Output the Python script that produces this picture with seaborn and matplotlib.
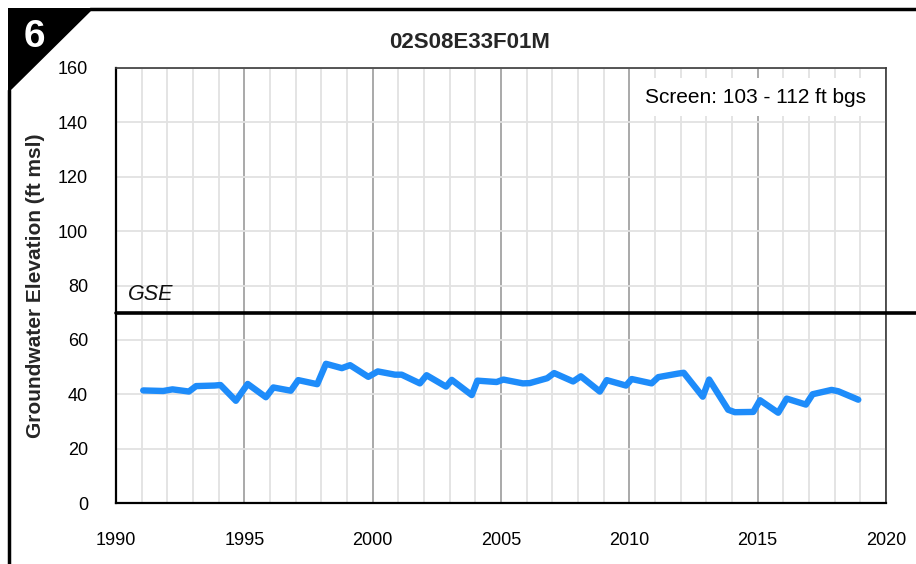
import matplotlib
matplotlib.use("Agg")
import matplotlib.pyplot as plt
from matplotlib.lines import Line2D
from matplotlib.patches import Polygon
from matplotlib.ticker import MultipleLocator
import seaborn as sns
import pandas as pd

# Well hydrograph data
well_id = "02S08E33F01M"
panel_number = "6"
screen_label = "Screen: 103 - 112 ft bgs"
gse_label = "GSE"
gse_elevation = 70.0

years = [1991.06, 1991.84, 1992.20, 1992.84, 1993.12, 1993.84, 1994.07, 1994.67,
         1995.13, 1995.84, 1996.13, 1996.81, 1997.10, 1997.84, 1998.18, 1998.80,
         1999.12, 1999.83, 2000.20, 2000.87, 2001.13, 2001.84, 2002.10, 2002.86,
         2003.08, 2003.86, 2004.08, 2004.83, 2005.09, 2005.85, 2006.12, 2006.80,
         2007.07, 2007.81, 2008.11, 2008.85, 2009.12, 2009.87, 2010.09, 2010.87,
         2011.13, 2011.90, 2012.12, 2012.86, 2013.11, 2013.85, 2014.11, 2014.83,
         2015.09, 2015.80, 2016.13, 2016.88, 2017.14, 2017.88, 2018.14, 2018.92]
elevations = [41.4, 41.2, 41.8, 41.0, 43.0, 43.2, 43.4, 37.6,
              43.8, 38.9, 42.5, 41.3, 45.2, 43.7, 51.2, 49.6,
              50.7, 46.4, 48.4, 47.2, 47.2, 44.0, 47.0, 42.8,
              45.3, 39.7, 45.0, 44.5, 45.4, 44.0, 44.1, 45.9,
              47.8, 44.7, 46.6, 41.0, 45.2, 43.2, 45.6, 44.0,
              46.3, 47.6, 47.9, 39.1, 45.4, 34.3, 33.4, 33.5,
              37.8, 33.2, 38.4, 36.2, 40.0, 41.6, 41.1, 38.0]

x_ticks = [1990, 1995, 2000, 2005, 2010, 2015, 2020]
y_ticks = [0, 20, 40, 60, 80, 100, 120, 140, 160]

df = pd.DataFrame({"year": years, "elevation": elevations})

sns.set_theme(style="white")
plt.rcParams["font.family"] = ["Liberation Sans", "DejaVu Sans"]

W, H = 916, 564
fig = plt.figure(figsize=(W / 100, H / 100), dpi=100)
ax = fig.add_axes([116 / W, 1 - 503 / H, 770 / W, 435 / H])


def fx(px):
    return px / W


def fy(py):
    return 1 - py / H


# Grid: light yearly lines, darker 5-year lines, light horizontal lines
ax.set_xlim(x_ticks[0], x_ticks[-1])
ax.set_ylim(y_ticks[0], y_ticks[-1])
ax.set_xticks(x_ticks)
ax.set_yticks(y_ticks)
ax.xaxis.set_minor_locator(MultipleLocator(1))
ax.grid(which="minor", axis="x", color="#e2e2e2", lw=1.3, zorder=0)
ax.grid(which="major", axis="x", color="#a3a3a3", lw=1.3, zorder=0)
ax.grid(which="major", axis="y", color="#e2e2e2", lw=1.3, zorder=0)
ax.set_axisbelow(True)

# Water level hydrograph
sns.lineplot(data=df, x="year", y="elevation", ax=ax, color="#1e8cfa",
             lw=4.6, zorder=3)

# Ground surface elevation
ax.axhline(gse_elevation, xmin=0, xmax=(W - 116) / 770, color="black",
           lw=2.6, clip_on=False, zorder=4)
ax.text(1990.45, gse_elevation + 3, gse_label, style="italic", fontsize=15.5,
        ha="left", va="bottom", color="#111111")

# Screen interval annotation
ax.text(0.83, 0.933, screen_label, transform=ax.transAxes, fontsize=15,
        ha="center", va="center", color="black", zorder=5,
        bbox=dict(boxstyle="square,pad=0.45", fc="white", ec="none"))

ax.set_xlabel("")
ax.set_ylabel("Groundwater Elevation (ft msl)", fontsize=15, fontweight="bold")
ax.yaxis.set_label_coords((45 - 116) / 770, 0.5)

ax.tick_params(axis="both", which="major", direction="out", length=7,
               width=1.2, color="black", labelsize=13, labelcolor="black")
ax.tick_params(axis="x", which="major", pad=14)
ax.tick_params(axis="y", which="major", pad=13)
ax.tick_params(which="minor", length=0)

for side in ["left", "bottom"]:
    ax.spines[side].set_color("black")
    ax.spines[side].set_linewidth(1.6)
for side in ["top", "right"]:
    ax.spines[side].set_color("#3a3a3a")
    ax.spines[side].set_linewidth(1.2)
    ax.spines[side].set_visible(True)

# Title
fig.text(fx(470), fy(42), well_id, fontsize=16, fontweight="bold",
         ha="center", va="center")

# Panel frame with corner tab
fig.add_artist(Line2D([fx(90), fx(W)], [fy(9), fy(9)], color="black", lw=2.5))
fig.add_artist(Line2D([fx(9), fx(9)], [fy(90), fy(H)], color="black", lw=2.5))
fig.add_artist(Polygon([(fx(8), fy(8)), (fx(94), fy(8)), (fx(8), fy(93))],
                       closed=True, fc="black", ec="none"))
fig.text(fx(34), fy(37), panel_number, color="white", fontsize=28,
         fontweight="bold", ha="center", va="center")

fig.savefig("out.png", dpi=100)
